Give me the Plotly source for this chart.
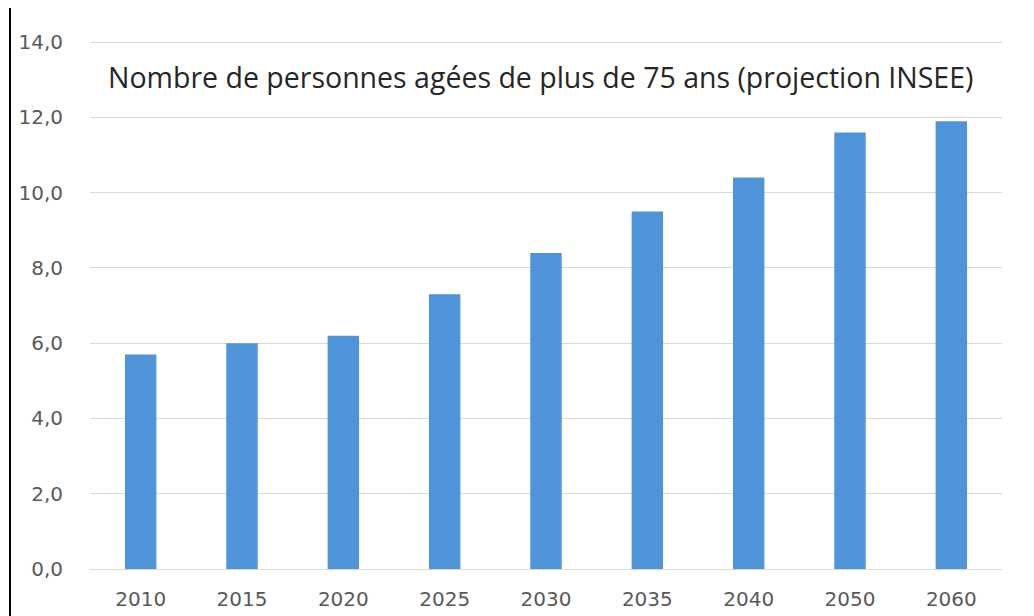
import plotly.graph_objects as go

years = ["2010", "2015", "2020", "2025", "2030", "2035", "2040", "2050", "2060"]
values = [5.7, 6.0, 6.2, 7.3, 8.4, 9.5, 10.4, 11.6, 11.9]
y_ticks = [0, 2, 4, 6, 8, 10, 12, 14]
y_tick_labels = ["0,0", "2,0", "4,0", "6,0", "8,0", "10,0", "12,0", "14,0"]
title_text = "Nombre de personnes agées de plus de 75 ans (projection INSEE)"

fig = go.Figure(go.Bar(x=years, y=values, marker=dict(color="#4f93d8", line=dict(width=0))))

# page body adds an 8px offset; figure coordinates below are page coords minus 8
W, H = 1026, 608
L, R, T, B = 82, 32, 33, 47
PW, PH = W - L - R, H - T - B

fig.update_layout(
    width=W, height=H,
    margin=dict(l=L, r=R, t=T, b=B),
    paper_bgcolor="white", plot_bgcolor="white",
    bargap=0.69,
    showlegend=False,
    font=dict(family="DejaVu Sans", color="#595959", size=20),
    xaxis=dict(type="category", showgrid=False, showline=True, linecolor="#d9d9d9",
               linewidth=1, ticks="", ticklabelstandoff=12, automargin=False,
               tickfont=dict(family="DejaVu Sans", size=20, color="#595959")),
    yaxis=dict(range=[0, 14.03], tickvals=y_ticks, ticktext=y_tick_labels,
               showgrid=True, gridcolor="#d9d9d9", gridwidth=1, zeroline=False,
               showline=False, ticks="", ticklabelstandoff=26, automargin=False,
               tickfont=dict(family="DejaVu Sans", size=20, color="#595959")),
    annotations=[dict(text=title_text, xref="paper", yref="paper",
                      x=(98 - L) / PW, y=(561 - 69) / PH,
                      xanchor="left", yanchor="middle", showarrow=False,
                      font=dict(family="Open Sans", size=28.5, color="#262626"))],
    shapes=[dict(type="line", xref="paper", yref="paper",
                 x0=(2 - L) / PW, x1=(2 - L) / PW,
                 y0=-B / PH, y1=(H - T) / PH + T / PH,
                 line=dict(color="black", width=2))],
)

fig.write_html("out.html")
